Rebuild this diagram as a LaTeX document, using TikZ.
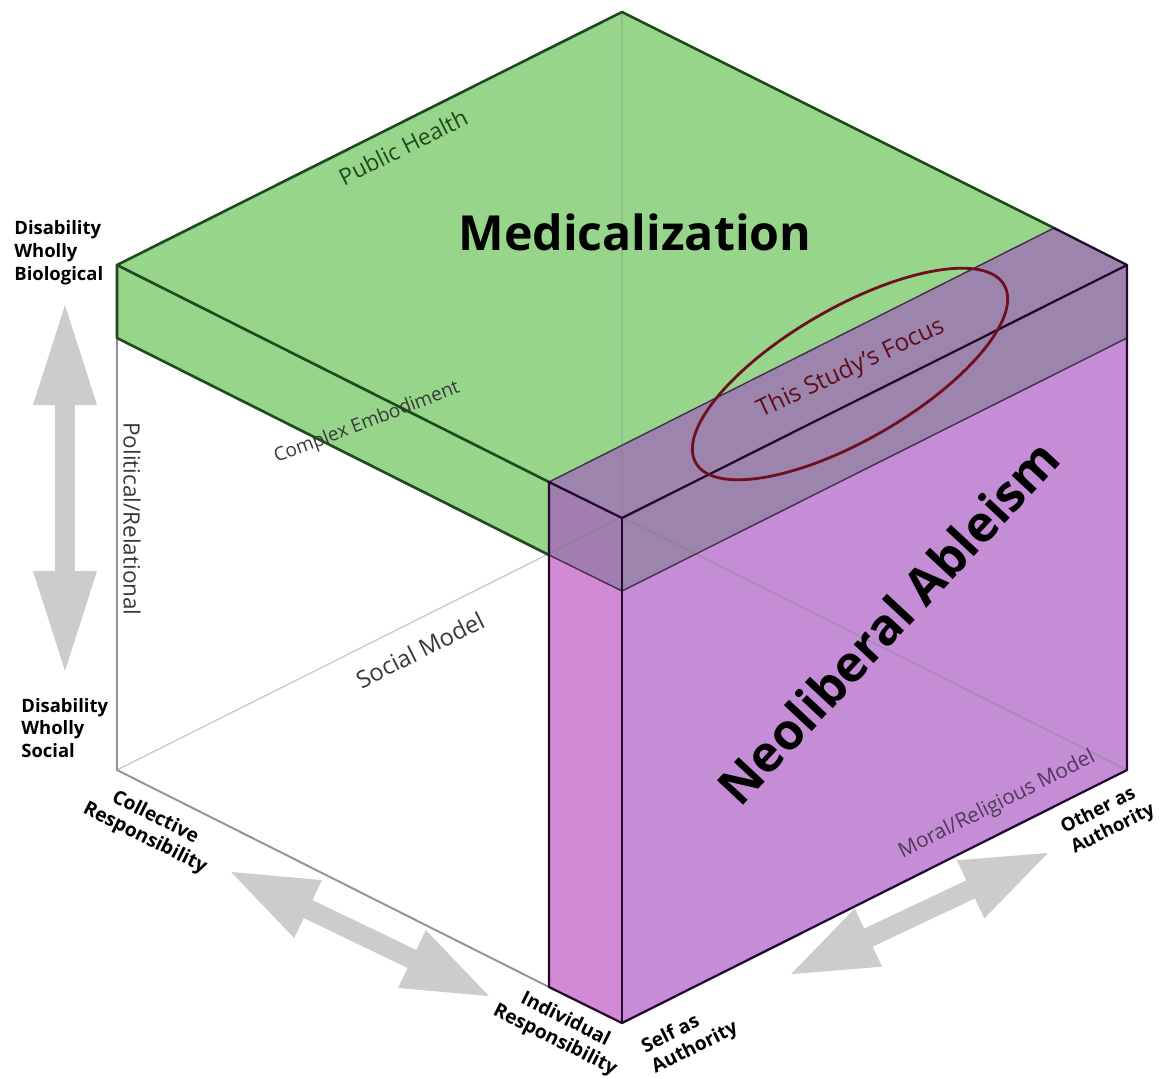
\documentclass[tikz,border=0pt]{standalone}
\usepackage{fontspec}
\setmainfont{Open Sans}
\usetikzlibrary{arrows.meta}

\definecolor{medgreen}{HTML}{96D58A}
\definecolor{edgegreen}{HTML}{1E4A1C}
\definecolor{overlapc}{HTML}{9C84AC}
\definecolor{ablefront}{HTML}{D38AD6}
\definecolor{ableside}{HTML}{C48DD5}
\definecolor{edgepurple}{HTML}{24082E}
\definecolor{focusred}{HTML}{6E1020}
\definecolor{arrowgray}{HTML}{CCCCCC}

\tikzset{
  greenedge/.style={edgegreen, line width=1.5pt, line join=round, line cap=round},
  purpleedge/.style={edgepurple, line width=1.3pt, line join=round, line cap=round},
  inneredge/.style={edgepurple!85, line width=0.8pt},
  hiddenedge/.style={gray, opacity=0.4, line width=0.8pt},
  cubeedge/.style={gray!85, line width=1.1pt},
  widearrow/.style={arrowgray, line width=4mm,
    {Triangle[length=18mm,width=11.5mm]}-{Triangle[length=18mm,width=11.5mm]}},
  axislabel/.style={font=\bfseries\fontsize{10.5}{13}\selectfont, inner sep=0pt},
  facelabel/.style={inner sep=0pt, text=black!78},
}

\begin{document}
\begin{tikzpicture}[x=0.2mm, y=-0.2mm]
  \useasboundingbox (0,0) rectangle (1161,1078);

  % corners of the cube
  \coordinate (B) at (622,12);
  \coordinate (L) at (117,265);
  \coordinate (R) at (1127,265);
  \coordinate (F) at (622,518);
  \coordinate (L2) at (117,338);
  \coordinate (R2) at (1127,338);
  \coordinate (F2) at (622,591);
  \coordinate (P0) at (1054,228);
  \coordinate (P1) at (549,482);
  \coordinate (P1g) at (549,555);
  \coordinate (P1b) at (549,987);
  \coordinate (Lb) at (117,770);
  \coordinate (Rb) at (1127,770);
  \coordinate (Fb) at (622,1023);
  \coordinate (Bb) at (622,517);

  % faces
  \fill[medgreen] (L) -- (B) -- (P0) -- (P1) -- cycle;
  \fill[medgreen] (L) -- (P1) -- (P1g) -- (L2) -- cycle;
  \fill[overlapc] (P1) -- (P0) -- (R) -- (F) -- cycle;
  \fill[overlapc!95!magenta] (P1) -- (F) -- (F2) -- (P1g) -- cycle;
  \fill[overlapc] (F) -- (R) -- (R2) -- (F2) -- cycle;
  \fill[ablefront] (P1g) -- (F2) -- (Fb) -- (P1b) -- cycle;
  \fill[ableside] (F2) -- (R2) -- (Rb) -- (Fb) -- cycle;

  % hidden edges
  \draw[hiddenedge, opacity=0.25] (B) -- (Bb);
  \draw[hiddenedge] (Lb) -- (Bb) -- (Rb);

  % visible edges
  \draw[cubeedge] (L2) -- (Lb) -- (P1b);
  \draw[inneredge] (P1) -- (P0);
  \draw[inneredge] (P1g) -- (F2) -- (R2);
  \draw[greenedge] (L2) -- (L) -- (B) -- (P0);
  \draw[greenedge] (L) -- (P1);
  \draw[greenedge] (L2) -- (P1g);
  \draw[purpleedge] (P0) -- (R) -- (Rb) -- (Fb) -- (P1b) -- (P1) -- (F) -- (R);
  \draw[purpleedge] (F) -- (Fb);

  % focus ring
  \draw[focusred, line width=1.6pt, rotate around={30:(850,374)}] (850,374) ellipse [x radius=178, y radius=66];

  % gray double arrows
  \coordinate (vtop) at (65,300);
  \coordinate (vbot) at (65,676);
  \coordinate (lefttip) at (227,870);
  \coordinate (righttip) at (493,998);
  \coordinate (selftip) at (787,976);
  \coordinate (othertip) at (1052,851);
  \draw[widearrow, {Triangle[length=21mm,width=11.5mm]}-{Triangle[length=21mm,width=11.5mm]}] (vtop) -- (vbot);
  \draw[widearrow] (lefttip) -- (righttip);
  \draw[widearrow] (selftip) -- (othertip);

  % labels on the faces
  \node[font=\bfseries\fontsize{27.5}{30}\selectfont, inner sep=0pt] (medlabel) at (635,232) {Medicalization};
  \node[font=\bfseries\fontsize{28.5}{30}\selectfont, inner sep=0pt, rotate=47] (ablelabel) at (888,622) {Neoliberal Ableism};
  \node[font=\fontsize{13.8}{15}\selectfont, inner sep=0pt, text=focusred!85!black, rotate=25] (focuslabel) at (851,369) {This Study's Focus};
  \node[facelabel, font=\fontsize{13}{15}\selectfont, text=edgegreen, rotate=26.57] (healthlabel) at (403,147) {Public Health};
  \node[facelabel, font=\fontsize{10.8}{13}\selectfont, rotate=21] (embodlabel) at (367,423) {Complex Embodiment};
  \node[facelabel, font=\fontsize{13.5}{15}\selectfont, rotate=26.57] (sociallabel) at (420,650) {Social Model};
  \node[facelabel, font=\fontsize{11.8}{13}\selectfont, text=edgepurple!80, rotate=26.57] (morallabel) at (997,805) {Moral/Religious Model};
  \node[facelabel, font=\fontsize{12.8}{14}\selectfont, rotate=-90] (politlabel) at (132,519) {Political/Relational};

  % labels of the axes
  \node[axislabel, align=left, anchor=west] (biolabel) at (14,253) {Disability\\Wholly\\Biological};
  \node[axislabel, align=left, anchor=west] (soclabel) at (21,728) {Disability\\Wholly\\Social};
  \node[axislabel, font=\bfseries\fontsize{11}{13}\selectfont, align=center, rotate=-26.57] (colllabel) at (150,828) {Collective\\Responsibility};
  \node[axislabel, font=\bfseries\fontsize{11}{13}\selectfont, align=center, rotate=-26.57] (indivlabel) at (560,1030) {Individual\\Responsibility};
  \node[axislabel, font=\bfseries\fontsize{11}{13}\selectfont, align=left, rotate=26.57] (selflabel) at (690,1038) {Self as\\Authority};
  \node[axislabel, font=\bfseries\fontsize{10.7}{13}\selectfont, align=left, rotate=26.57] (otherlabel) at (1108,819) {Other as\\Authority};
\end{tikzpicture}
\end{document}
